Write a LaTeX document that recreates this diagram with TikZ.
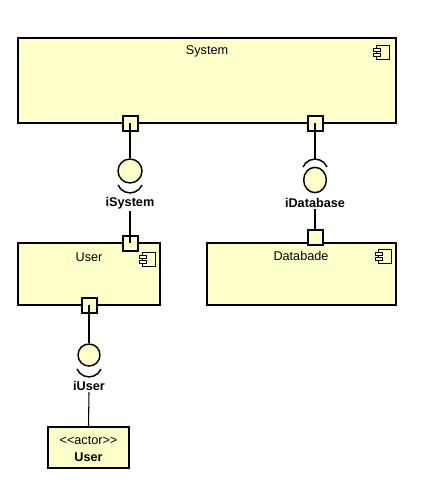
\documentclass[tikz,border=0pt]{standalone}
\usepackage{fontspec}
\setmainfont{Liberation Sans}
\definecolor{compfill}{RGB}{255,255,202}
\tikzset{
  comp/.style={draw=black,line width=1.5pt,fill=compfill,inner sep=0pt,rectangle},
  port/.style={draw=black,line width=1.5pt,fill=compfill,inner sep=0pt,minimum size=11.25pt,rectangle},
  conn/.style={draw=black,line width=0.8pt},
  lolli/.style={draw=black,line width=1.1pt,fill=compfill,ellipse,inner sep=0pt},
  sock/.style={draw=black,line width=1.1pt},
  title/.style={font=\fontsize{9.5}{11}\selectfont,inner sep=0pt},
  iflabel/.style={font=\fontsize{9.5}{11}\selectfont\bfseries,inner sep=1pt},
  pics/compicon/.style={code={
    \draw[line width=0.7pt,fill=compfill] (3,0) rectangle (16,14);
    \draw[line width=0.7pt,fill=compfill] (0,3) rectangle (7,6);
    \draw[line width=0.7pt,fill=compfill] (0,8) rectangle (7,11);
  }}
}
\usetikzlibrary{shapes.geometric}
\begin{document}
\begin{tikzpicture}[x=0.75pt,y=-0.75pt]
\useasboundingbox (0,0) rectangle (422,485);
% components
\node[comp,minimum width=283.5pt,minimum height=63.75pt] (sys) at (207,80.5) {};
\node[title] (systxt) at (207,51) {System};
\pic at (373,45) {compicon};
\node[comp,minimum width=106.5pt,minimum height=46.5pt] (usr) at (89,274) {};
\node[title] (usrtxt) at (89,257) {User};
\pic at (139,252) {compicon};
\node[comp,minimum width=141.75pt,minimum height=46.5pt] (db) at (301.5,274) {};
\node[title] (dbtxt) at (301,256) {Databade};
\pic at (375,249) {compicon};
\node[comp,minimum width=60.75pt,minimum height=30.75pt] (act) at (88.5,447.5) {};
\node[title] (acttxt) at (88.5,440) {{<}{<}actor{>}{>}};
\node[title,font=\fontsize{9.5}{11}\selectfont\bfseries] (actname) at (88.5,457) {User};
% ports
\node[port] (ps1) at (130,123) {};
\node[port] (ps2) at (315,123) {};
\node[port] (pu1) at (130,243) {};
\node[port] (pu2) at (89,305) {};
\node[port] (pd1) at (315,237) {};
% iSystem
\node[lolli,minimum width=18pt,minimum height=18pt] (isys) at (130,171) {};
\draw[sock] (142,185) arc[start angle=23,end angle=157,radius=13];
\node[iflabel] (isyslbl) at (130,203) {iSystem};
\draw[conn] (ps1.center) -- (isys.north);
\draw[conn] (isyslbl.south) -- (pu1.center);
% iDatabase
\node[lolli,minimum width=17pt,minimum height=19pt] (idb) at (315,180) {};
\draw[sock] (327,167) arc[start angle=-23,end angle=-157,radius=13];
\coordinate (idbtop) at (315,159);
\node[iflabel] (idblbl) at (315,203) {iDatabase};
\draw[conn] (ps2.center) -- (idbtop);
\draw[conn] (idblbl.south) -- (pd1.north);
% iUser
\node[lolli,minimum width=16.5pt,minimum height=16.5pt] (iusr) at (89,355) {};
\draw[sock] (101,369) arc[start angle=23,end angle=157,radius=13];
\node[iflabel] (iusrlbl) at (89,386) {iUser};
\draw[conn] (pu2.center) -- (iusr.north);
\draw[conn] (iusrlbl.south) -- (act.north);
\end{tikzpicture}
\end{document}
